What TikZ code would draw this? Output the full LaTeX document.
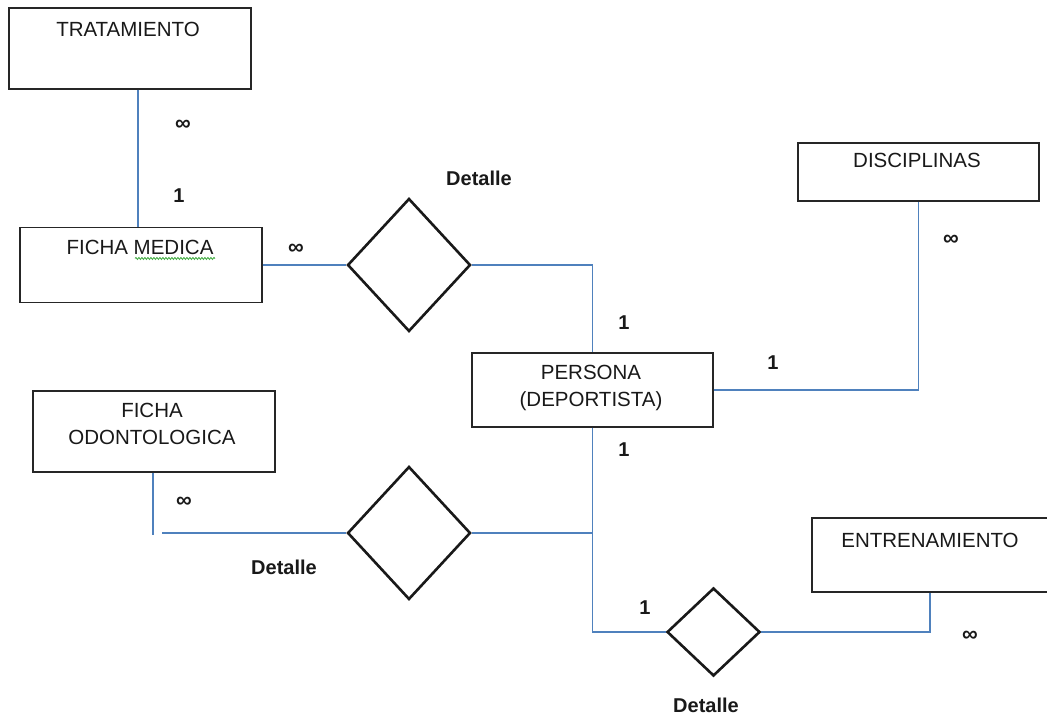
\documentclass[tikz,border=0pt]{standalone}
\usepackage{fontspec}
\setmainfont{Liberation Sans}
\usetikzlibrary{shapes.geometric,decorations.pathmorphing}
\definecolor{linkblue}{RGB}{79,129,189}
\definecolor{spellgreen}{RGB}{60,170,60}
\begin{document}
\begin{tikzpicture}[x=1pt,y=-1pt,
  entity/.style={draw=black!85, line width=1.4pt, rectangle, inner sep=0pt},
  relation/.style={draw=black!90, diamond, line width=2.6pt, inner sep=0pt},
  link/.style={draw=linkblue, line width=1.2pt},
  etext/.style={font=\fontsize{20.5}{27}\selectfont, text=black!90, inner sep=0pt, align=center},
  card/.style={font=\bfseries\fontsize{20}{24}\selectfont, text=black!90, inner sep=0pt},
  many/.style={font=\bfseries\fontsize{22}{24}\selectfont, text=black!90, inner sep=0pt},
]
\clip (0,0) rectangle (1047,719);
\fill[white] (0,0) rectangle (1047,719);

% entities
\node[entity, minimum width=242pt, minimum height=75pt] (fm) at (141,265) {};
\node[entity, minimum width=242pt, minimum height=81pt] (trat) at (130,48.5) {};
\node[entity, minimum width=241pt, minimum height=58pt] (disc) at (918.5,172) {};
\node[entity, minimum width=241pt, minimum height=74pt] (pers) at (592.5,390) {};
\node[entity, minimum width=242pt, minimum height=81pt] (fo) at (154,431.5) {};
\node[entity, minimum width=236pt, minimum height=74pt] (ent) at (930,555) {};

% entity captions
\node[etext] (tratT) at (128,29) {TRATAMIENTO};
\node[etext] (fmT) at (140,247) {FICHA MEDICA};
\node[etext] (discT) at (917,160) {DISCIPLINAS};
\node[etext, anchor=north] (persT) at (591,365) {PERSONA\\(DEPORTISTA)};
\node[etext, anchor=north] (foT) at (152,403) {FICHA\\ODONTOLOGICA};
\node[etext] (entT) at (930,540) {ENTRENAMIENTO};

% spell-check underline below MEDICA
\draw[spellgreen, line width=0.8pt, decorate,
      decoration={snake, amplitude=1pt, segment length=3pt}]
  ([xshift=-5pt,yshift=-4pt]fmT.south) -- ([xshift=75pt,yshift=-4pt]fmT.south);

% relationships
\node[relation, minimum width=123pt, minimum height=133pt] (d1) at (409,265) {};
\node[relation, minimum width=123pt, minimum height=133pt] (d2) at (409,533) {};
\node[relation, minimum width=93pt, minimum height=88pt] (d3) at (713.5,632) {};

\node[card] (d1T) at (479,178) {Detalle};
\node[card] (d2T) at (284,567) {Detalle};
\node[card] (d3T) at (706,705) {Detalle};

% free ends of the odontology link
\coordinate (foEnd) at (153,535);
\coordinate (d2End) at (162,533);

% connectors
\draw[link] ([xshift=8pt]trat.south) -- ([xshift=8pt]trat.south |- fm.north);
\draw[link] (fm.east) -- (d1.west);
\draw[link] (d1.east) -| (pers.north);
\draw[link] (pers.east) -| (disc.south);
\draw[link] (pers.south) |- (d3.west);
\draw[link] (d2.east) -- (d2.east -| pers.south);
\draw[link] (d2.west) -- (d2End);
\draw[link] ([xshift=-1pt]fo.south) -- (foEnd);
\draw[link] (d3.east) -| (ent.south);

% cardinalities
\node[many] (c1) at (183,125) {∞};
\node[card] (c2) at (179,196) {1};
\node[many] (c3) at (296,249) {∞};
\node[card] (c4) at (624,323) {1};
\node[many] (c5) at (951,240) {∞};
\node[card] (c6) at (773,363) {1};
\node[card] (c7) at (624,450) {1};
\node[many] (c8) at (184,502) {∞};
\node[card] (c9) at (645,608) {1};
\node[many] (c10) at (970,636) {∞};
\end{tikzpicture}
\end{document}
